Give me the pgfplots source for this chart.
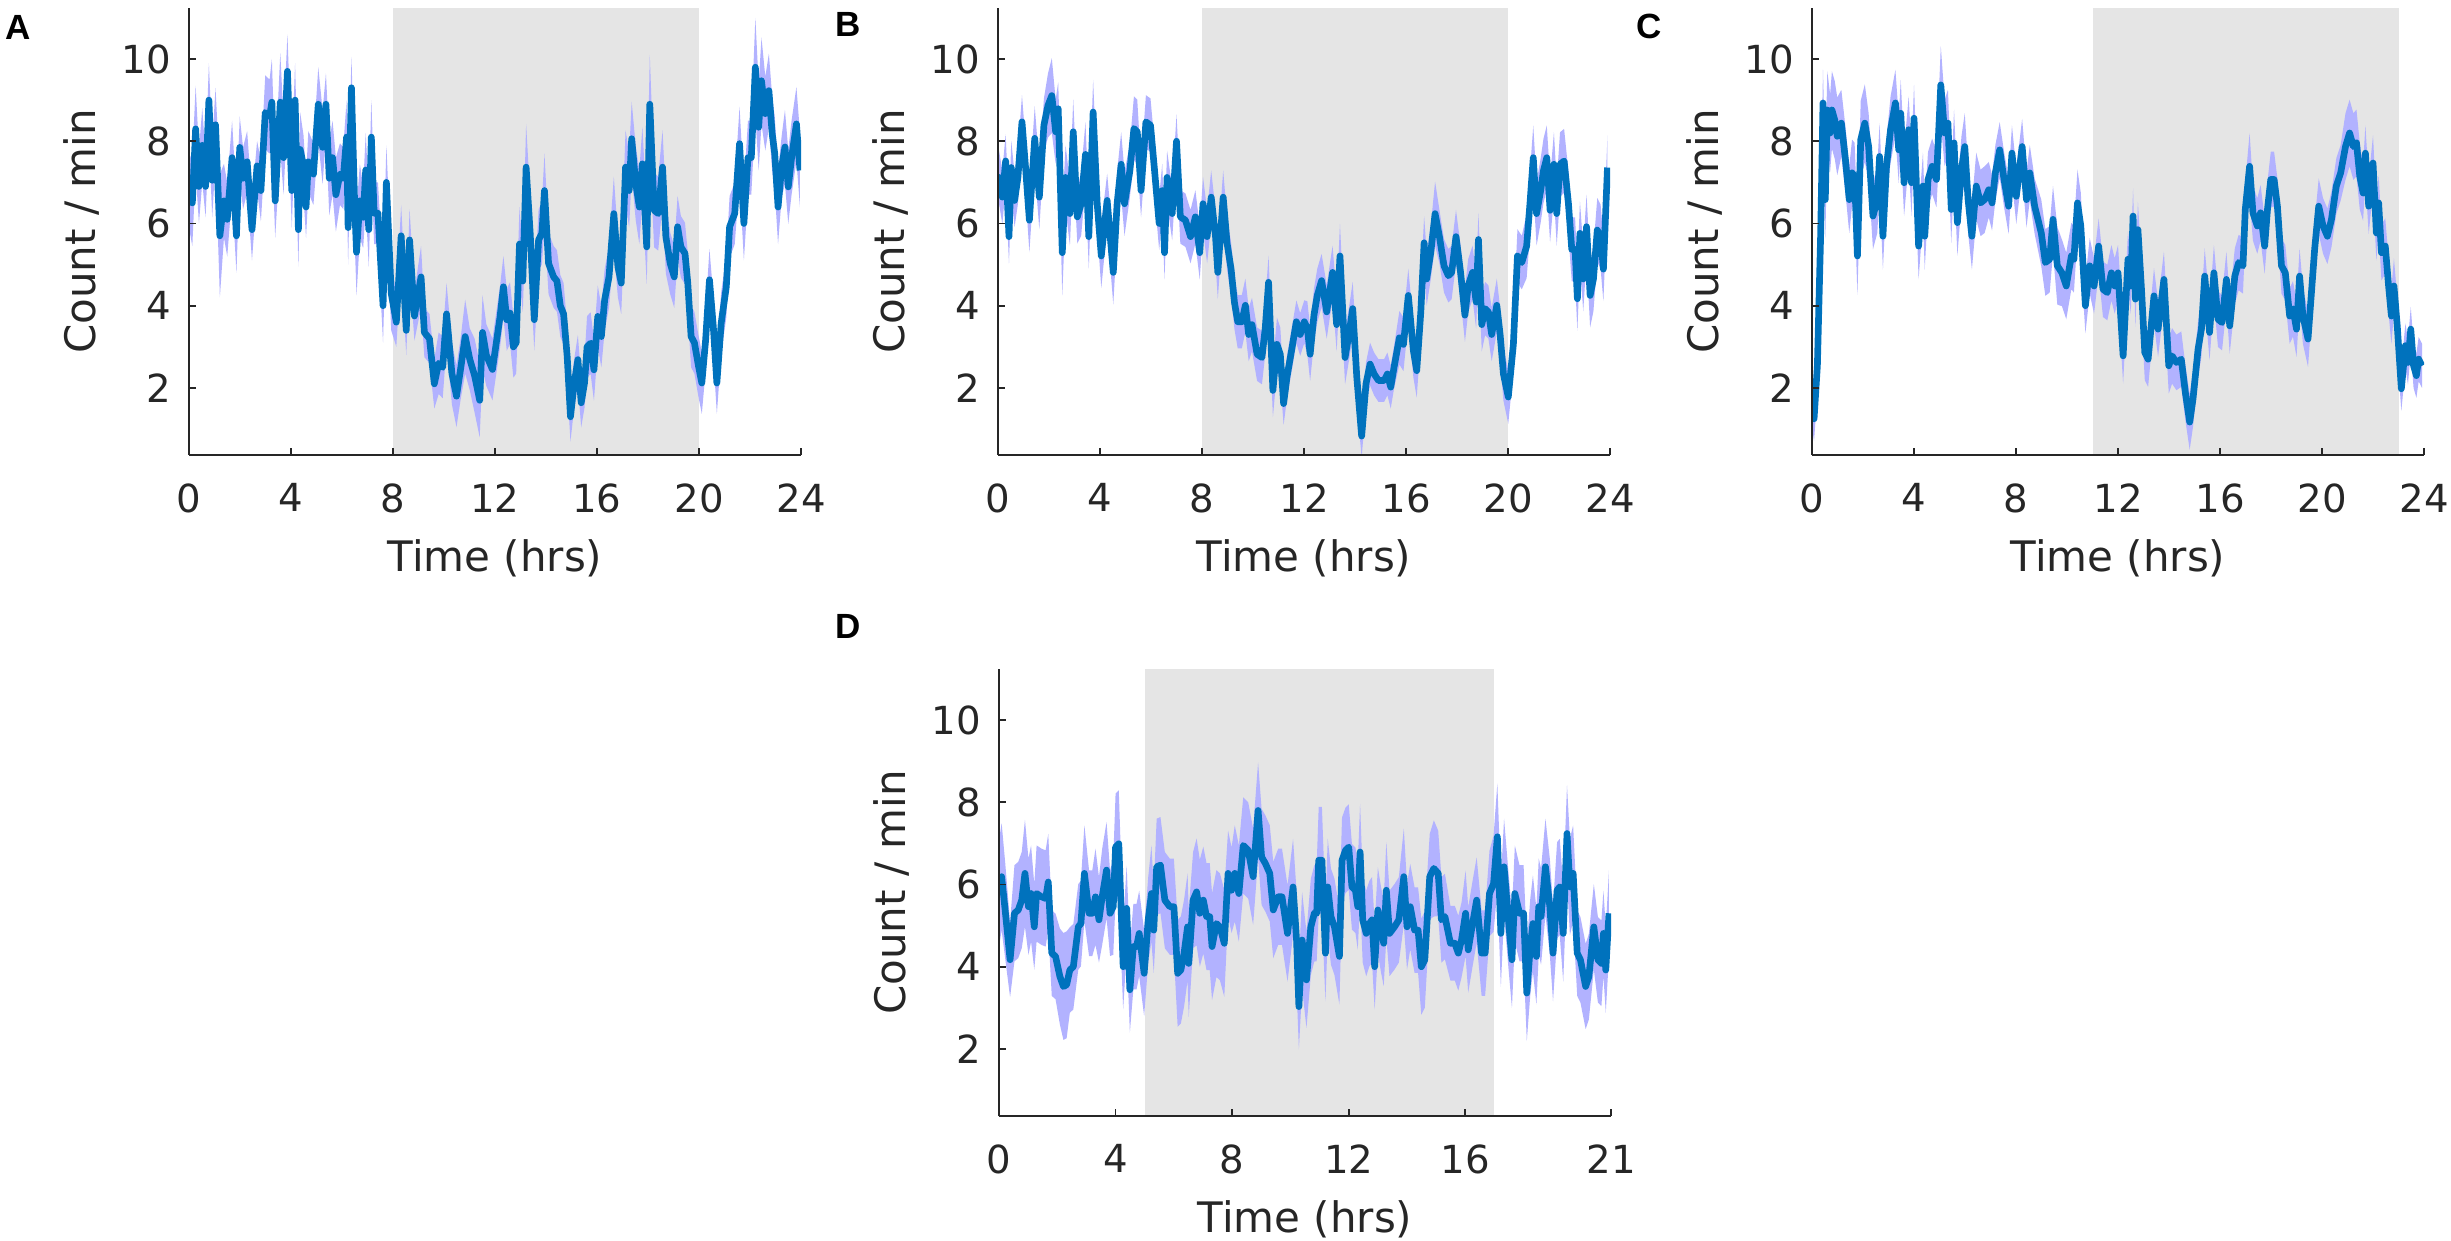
\documentclass[border=0pt]{standalone}
\usepackage{fontspec}
\setmainfont{DejaVu Sans}
\newfontfamily\panelfont{Liberation Sans}
\usepackage{pgfplots}
\usepackage{pgfplotstable}
\pgfplotsset{compat=1.18}
\usepgfplotslibrary{fillbetween}

\definecolor{mline}{RGB}{0,114,189}
\definecolor{mband}{RGB}{178,178,255}
\definecolor{mgray}{RGB}{229,229,229}
\definecolor{maxis}{RGB}{38,38,38}

\pgfplotstableread{
t m e
0.00 6.8 0.6
0.13 6.5 0.7
0.26 8.3 0.7
0.39 6.9 0.6
0.52 7.9 0.6
0.65 6.9 0.5
0.78 9.0 0.6
0.91 7.05 0.6
1.04 8.4 0.6
1.21 5.7 1.0
1.37 6.55 0.6
1.50 6.1 0.6
1.69 7.6 0.6
1.86 5.7 0.6
1.99 7.85 0.5
2.12 7.1 0.5
2.28 7.5 0.5
2.47 5.85 0.5
2.67 7.4 0.4
2.82 6.8 0.5
2.99 8.7 0.6
3.16 8.6 0.6
3.25 8.95 0.7
3.38 6.55 0.6
3.58 8.95 0.8
3.71 7.6 0.6
3.86 9.7 0.6
4.03 6.8 0.6
4.16 9.0 0.6
4.29 5.85 0.6
4.36 7.8 0.6
4.49 7.4 0.5
4.59 6.4 0.5
4.68 7.5 0.5
4.88 7.2 0.5
5.07 8.9 0.6
5.24 7.85 0.6
5.37 8.9 0.5
5.50 7.1 0.6
5.63 7.6 0.6
5.76 6.7 0.6
5.92 7.2 0.5
6.05 7.1 0.5
6.18 8.1 0.6
6.24 5.9 0.6
6.37 9.3 0.5
6.50 6.4 0.6
6.57 5.3 0.7
6.70 6.55 0.6
6.83 6.15 0.5
6.93 7.3 0.6
7.05 5.85 0.6
7.15 8.1 0.6
7.26 6.25 0.5
7.41 6.25 0.5
7.61 4.0 0.6
7.74 7.0 0.6
7.93 4.3 0.6
8.13 3.6 0.4
8.32 5.7 0.5
8.52 3.4 0.4
8.65 5.6 0.5
8.84 3.75 0.4
9.10 4.7 0.5
9.23 3.35 0.4
9.43 3.2 0.4
9.62 2.1 0.4
9.79 2.6 0.5
9.95 2.5 0.5
10.10 3.8 0.5
10.31 2.35 0.5
10.49 1.8 0.5
10.66 2.5 0.5
10.83 3.25 0.6
11.01 2.7 0.5
11.20 2.3 0.6
11.40 1.7 0.6
11.51 3.35 0.6
11.66 2.8 0.5
11.90 2.45 0.5
12.20 3.74 0.5
12.33 4.46 0.5
12.46 3.66 0.5
12.59 3.82 0.5
12.72 3.0 0.5
12.83 3.1 0.5
12.96 5.5 0.6
13.09 4.6 0.5
13.22 7.37 0.7
13.38 5.76 0.6
13.54 3.66 0.5
13.71 5.6 0.5
13.84 5.76 0.5
13.94 6.8 0.6
14.10 5.03 0.5
14.30 4.7 0.5
14.43 4.6 0.5
14.56 4.0 0.5
14.69 3.8 0.5
14.83 2.77 0.5
14.96 1.3 0.4
15.09 2.04 0.4
15.25 2.69 0.4
15.38 1.64 0.4
15.51 2.12 0.4
15.61 3.0 0.5
15.75 3.09 0.5
15.88 2.44 0.5
16.03 3.74 0.5
16.17 3.25 0.5
16.30 4.14 0.5
16.47 4.7 0.5
16.66 6.24 0.6
16.82 4.95 0.5
16.95 4.55 0.5
17.12 7.37 0.6
17.26 6.8 0.6
17.36 8.06 0.6
17.52 6.97 0.6
17.66 6.4 0.6
17.78 7.45 0.6
17.95 5.43 0.6
18.07 8.9 0.8
18.24 6.32 0.6
18.40 6.24 0.6
18.57 7.37 0.6
18.70 5.68 0.6
18.87 5.03 0.5
19.03 4.7 0.5
19.16 5.92 0.5
19.29 5.43 0.5
19.45 5.27 0.5
19.56 4.55 0.5
19.69 3.25 0.5
19.82 3.1 0.5
19.98 2.53 0.5
20.11 2.12 0.5
20.26 3.17 0.5
20.41 4.63 0.5
20.56 3.5 0.5
20.70 2.12 0.5
20.87 3.58 0.5
21.07 4.46 0.5
21.20 5.92 0.5
21.40 6.24 0.5
21.59 7.94 0.6
21.76 6.0 0.6
21.92 7.6 0.6
22.05 7.6 0.6
22.21 9.8 0.8
22.34 8.34 0.7
22.45 9.47 0.7
22.60 8.67 0.6
22.74 9.23 0.6
22.87 8.18 0.6
22.97 7.7 0.6
23.10 6.4 0.6
23.24 7.37 0.5
23.37 7.86 0.6
23.50 6.89 0.6
23.63 7.6 0.6
23.82 8.42 0.6
23.96 7.29 0.6
}\dataA

\pgfplotstableread{
t m e
0.00 7.0 0.5
0.04 7.12 0.5
0.17 6.64 0.5
0.30 7.52 0.5
0.43 5.68 0.5
0.52 7.36 0.5
0.65 6.56 0.5
0.78 7.12 0.5
0.94 8.47 0.5
1.08 7.36 0.5
1.23 6.08 0.6
1.44 8.07 0.6
1.62 6.64 0.6
1.80 8.39 0.5
1.96 8.87 0.6
2.11 9.11 0.7
2.26 8.23 0.6
2.36 8.79 0.5
2.52 5.29 0.8
2.65 7.12 0.6
2.82 6.24 0.6
2.95 8.23 0.6
3.11 6.16 0.5
3.26 6.48 0.6
3.43 7.68 0.6
3.56 5.68 0.6
3.73 8.71 0.6
3.89 6.48 0.5
4.05 5.21 0.6
4.28 6.56 0.5
4.52 4.81 0.6
4.67 6.48 0.6
4.83 7.44 0.6
4.96 6.48 0.6
5.17 7.28 0.5
5.33 8.31 0.6
5.46 8.23 0.6
5.61 6.8 0.5
5.80 8.47 0.5
5.98 8.39 0.5
6.14 7.28 0.5
6.32 6.0 0.5
6.44 6.8 0.5
6.53 5.29 0.5
6.63 7.12 0.5
6.83 6.24 0.5
7.00 8.0 0.5
7.15 6.16 0.5
7.35 6.08 0.5
7.55 5.68 0.5
7.74 6.16 0.5
7.91 5.29 0.5
8.04 6.48 0.5
8.20 5.68 0.5
8.36 6.64 0.5
8.53 5.68 0.5
8.62 4.81 0.5
8.83 6.64 0.5
8.98 5.53 0.5
9.14 4.89 0.5
9.27 4.09 0.5
9.40 3.61 0.5
9.56 3.61 0.5
9.70 4.01 0.5
9.83 3.30 0.5
9.96 3.54 0.5
10.16 2.82 0.5
10.35 2.74 0.5
10.48 3.46 0.5
10.61 4.57 0.5
10.78 1.94 0.5
10.94 3.06 0.5
11.07 2.82 0.5
11.20 1.62 0.4
11.33 2.26 0.4
11.53 2.98 0.4
11.70 3.61 0.4
11.85 3.30 0.4
12.01 3.61 0.4
12.13 3.46 0.5
12.24 2.82 0.5
12.39 3.77 0.5
12.52 4.25 0.5
12.69 4.61 0.5
12.89 3.85 0.5
13.12 4.81 0.5
13.28 3.54 0.5
13.41 5.21 0.6
13.61 2.74 0.5
13.78 3.38 0.5
13.91 3.93 0.5
14.07 2.26 0.5
14.26 0.83 0.4
14.43 2.10 0.4
14.59 2.58 0.4
14.75 2.34 0.4
14.92 2.18 0.4
15.14 2.18 0.4
15.27 2.34 0.4
15.40 2.02 0.4
15.53 2.50 0.4
15.74 3.22 0.5
15.90 3.06 0.5
16.09 4.25 0.5
16.29 2.90 0.5
16.42 2.42 0.5
16.58 3.85 0.5
16.71 5.53 0.5
16.81 4.65 0.5
16.97 5.29 0.5
17.14 6.24 0.6
17.31 5.68 0.5
17.49 4.97 0.5
17.66 4.73 0.5
17.79 4.81 0.5
17.96 5.68 0.5
18.14 4.81 0.5
18.31 3.77 0.5
18.44 4.49 0.5
18.61 4.81 0.5
18.75 4.09 0.5
18.84 5.61 0.5
18.97 3.54 0.5
19.10 3.93 0.5
19.23 3.85 0.5
19.36 3.30 0.5
19.56 4.01 0.5
19.69 3.30 0.5
19.82 2.34 0.5
20.01 1.78 0.5
20.21 3.06 0.5
20.37 5.21 0.5
20.54 5.05 0.5
20.73 5.45 0.6
20.86 6.48 0.6
20.99 7.60 0.6
21.12 6.24 0.6
21.28 6.80 0.6
21.39 7.28 0.6
21.52 7.60 0.6
21.65 6.32 0.6
21.80 7.44 0.6
21.91 6.24 0.6
22.04 7.44 0.6
22.20 7.52 0.6
22.37 6.48 0.6
22.50 5.37 0.6
22.63 5.37 0.6
22.72 4.17 0.6
22.82 5.76 0.6
22.95 4.65 0.6
23.08 5.92 0.6
23.22 4.25 0.6
23.35 4.65 0.6
23.50 5.84 0.6
23.63 5.68 0.6
23.74 4.89 0.6
23.90 7.36 0.6
}\dataB

\pgfplotstableread{
t m e
0.00 1.57 0.4
0.08 1.25 0.4
0.21 2.54 0.5
0.34 5.77 0.6
0.43 8.93 0.6
0.52 6.58 0.7
0.60 8.76 0.7
0.71 8.20 0.7
0.78 8.76 0.7
0.89 8.52 0.7
0.99 8.12 0.7
1.15 8.44 0.6
1.31 7.55 0.6
1.46 6.58 0.6
1.57 7.23 0.6
1.67 7.15 0.6
1.78 5.21 0.7
1.91 8.04 0.7
2.07 8.44 0.7
2.22 7.87 0.6
2.39 6.18 0.6
2.56 6.58 0.6
2.65 7.63 0.6
2.78 5.69 0.6
2.92 7.39 0.5
3.08 8.28 0.6
3.27 8.93 0.6
3.40 7.79 0.6
3.48 8.68 0.6
3.61 6.99 0.6
3.79 8.28 0.6
3.90 6.99 0.6
4.00 8.56 0.6
4.18 5.45 0.6
4.35 6.91 0.6
4.42 5.69 0.6
4.55 7.07 0.5
4.71 7.39 0.5
4.88 7.07 0.5
5.05 9.37 0.7
5.20 8.20 0.6
5.33 8.44 0.6
5.46 6.34 0.6
5.57 7.96 0.6
5.70 6.02 0.6
5.86 7.31 0.6
5.99 7.87 0.6
6.12 6.58 0.6
6.27 5.69 0.6
6.44 6.91 0.6
6.61 6.50 0.6
6.77 6.58 0.6
6.93 6.82 0.5
7.06 6.50 0.5
7.19 7.23 0.5
7.36 7.79 0.5
7.53 7.07 0.5
7.71 6.42 0.5
7.84 7.71 0.5
8.01 6.66 0.5
8.24 7.87 0.5
8.41 6.58 0.5
8.54 7.23 0.5
8.73 6.42 0.5
8.99 5.77 0.6
9.15 5.05 0.6
9.32 5.13 0.6
9.45 6.10 0.6
9.62 4.97 0.7
9.80 4.80 0.6
9.97 4.48 0.6
10.17 5.21 0.6
10.27 5.13 0.6
10.41 6.50 0.6
10.54 5.94 0.6
10.72 4.00 0.5
10.89 4.97 0.5
11.06 4.48 0.5
11.24 5.45 0.5
11.41 4.40 0.5
11.58 4.32 0.5
11.74 4.80 0.5
11.87 4.48 0.5
12.00 4.80 0.5
12.20 2.78 0.5
12.39 5.13 0.5
12.50 4.48 0.5
12.59 6.18 0.5
12.68 4.16 0.5
12.78 5.85 0.5
12.92 4.40 0.5
13.05 2.86 0.5
13.18 2.70 0.5
13.41 4.24 0.5
13.57 3.43 0.5
13.80 4.64 0.5
13.99 2.54 0.5
14.12 2.78 0.5
14.29 2.62 0.5
14.48 2.70 0.5
14.64 1.89 0.5
14.81 1.17 0.5
14.94 1.73 0.5
15.14 2.95 0.5
15.27 3.43 0.5
15.40 4.72 0.5
15.59 3.35 0.5
15.76 4.80 0.5
15.92 3.67 0.5
16.08 3.59 0.5
16.25 4.64 0.5
16.38 3.51 0.5
16.58 4.72 0.5
16.73 5.05 0.5
16.90 4.97 0.5
16.99 6.34 0.5
17.16 7.39 0.6
17.29 6.26 0.5
17.46 5.94 0.5
17.59 6.26 0.5
17.75 5.45 0.5
17.86 6.34 0.5
17.99 7.07 0.5
18.12 7.07 0.5
18.25 6.42 0.5
18.41 4.97 0.5
18.56 4.80 0.5
18.73 3.75 0.5
18.86 3.92 0.5
19.00 3.43 0.5
19.12 4.72 0.5
19.25 3.75 0.5
19.45 3.19 0.5
19.71 5.37 0.5
19.87 6.42 0.5
20.04 5.94 0.5
20.21 5.69 0.5
20.37 6.10 0.5
20.56 6.91 0.5
20.73 7.23 0.5
20.92 7.87 0.6
21.08 8.20 0.6
21.23 7.87 0.6
21.35 7.96 0.6
21.48 7.15 0.6
21.61 6.74 0.5
21.70 7.71 0.5
21.83 6.42 0.5
22.00 7.47 0.5
22.13 5.77 0.5
22.22 6.50 0.5
22.33 5.29 0.5
22.48 5.45 0.5
22.61 4.48 0.5
22.72 3.75 0.5
22.82 4.48 0.5
22.95 3.51 0.5
23.11 1.98 0.4
23.27 3.03 0.4
23.37 2.62 0.4
23.48 3.43 0.4
23.59 2.54 0.4
23.70 2.30 0.4
23.79 2.70 0.4
23.92 2.54 0.4
}\dataC

\pgfplotstableread{
t m e
0.00 5.78 1.0
0.09 6.19 1.0
0.21 5.38 0.9
0.38 4.17 0.7
0.53 5.30 0.9
0.66 5.38 0.9
0.78 5.62 0.9
0.89 6.27 1.0
1.01 5.46 0.9
1.10 5.78 0.9
1.21 4.97 0.8
1.29 5.78 0.9
1.46 5.70 0.9
1.60 5.66 0.9
1.69 6.06 0.9
1.81 4.33 0.8
1.94 4.25 0.8
2.09 3.76 0.9
2.21 3.52 1.0
2.32 3.56 1.0
2.43 3.92 0.8
2.55 4.00 0.8
2.72 4.97 0.8
2.81 5.05 0.8
2.93 6.27 0.9
3.09 5.30 0.8
3.20 5.30 0.8
3.31 5.70 0.9
3.43 5.14 0.8
3.54 5.70 0.9
3.69 6.35 0.9
3.81 5.30 0.8
3.92 5.46 0.9
4.00 6.91 1.0
4.11 6.99 1.0
4.26 4.00 0.8
4.38 5.42 0.8
4.49 3.44 0.8
4.61 4.49 0.8
4.72 4.49 0.8
4.81 4.81 0.8
4.98 3.84 0.8
5.12 5.14 0.8
5.23 5.78 0.9
5.31 4.89 0.8
5.41 6.43 0.9
5.54 6.47 0.9
5.69 5.62 0.9
5.86 5.46 0.9
6.00 5.46 0.9
6.13 3.84 1.0
6.24 3.92 1.0
6.35 4.33 1.0
6.47 4.97 1.0
6.51 4.08 1.0
6.66 5.62 0.9
6.78 5.82 1.0
6.89 5.30 1.0
7.01 5.62 1.0
7.12 5.22 1.0
7.23 5.22 1.0
7.31 4.49 1.0
7.46 5.05 1.0
7.58 4.97 1.0
7.73 4.57 1.0
7.86 6.27 0.8
7.98 5.86 0.8
8.09 6.27 0.9
8.23 5.78 0.9
8.38 6.95 0.9
8.55 6.83 0.9
8.72 6.19 0.9
8.89 7.80 0.9
9.01 6.67 0.9
9.14 6.51 0.9
9.29 6.27 0.9
9.41 5.38 0.9
9.58 5.70 0.9
9.71 5.70 0.9
9.90 4.81 0.9
10.09 5.94 0.9
10.21 4.65 0.9
10.29 3.03 0.8
10.40 4.65 0.9
10.55 3.68 0.9
10.70 4.97 0.9
10.82 5.30 0.9
10.90 5.30 0.9
10.97 6.59 1.0
11.08 6.59 1.0
11.20 4.33 0.9
11.28 5.94 0.9
11.39 5.22 0.9
11.51 4.97 0.9
11.68 4.25 0.9
11.77 6.59 0.8
11.89 6.83 0.8
12.00 6.91 0.8
12.11 5.94 0.8
12.23 5.86 0.8
12.31 5.46 0.8
12.39 6.79 0.9
12.48 5.14 0.8
12.60 4.81 0.8
12.71 5.05 0.8
12.80 5.14 0.8
12.89 4.00 0.8
13.00 5.38 0.8
13.11 4.89 0.8
13.20 4.57 0.8
13.29 5.86 0.9
13.40 4.81 0.8
13.57 4.97 0.8
13.72 5.14 0.8
13.89 6.19 0.9
14.00 4.97 0.8
14.11 5.46 0.8
14.26 4.89 0.8
14.38 4.89 0.8
14.49 4.00 0.9
14.61 4.17 0.9
14.78 6.19 0.8
14.92 6.39 0.9
15.07 6.27 0.8
15.18 5.14 0.8
15.30 5.22 0.8
15.49 4.57 0.7
15.64 4.57 0.7
15.76 4.33 0.7
15.87 4.65 0.7
16.01 5.30 0.8
16.10 4.41 0.8
16.25 5.05 0.8
16.39 5.62 0.8
16.56 4.33 0.8
16.68 4.33 0.8
16.83 5.78 0.8
16.97 6.02 0.9
17.10 7.16 1.0
17.22 4.81 1.0
17.33 6.43 0.9
17.48 5.14 0.9
17.60 4.17 0.9
17.70 5.78 0.9
17.86 5.30 0.9
18.00 5.30 0.9
18.11 3.36 0.9
18.23 4.49 0.9
18.32 5.05 0.9
18.44 4.25 0.9
18.52 5.46 0.9
18.60 5.22 0.9
18.75 6.43 0.9
18.90 5.46 0.9
19.01 4.33 0.9
19.15 5.86 0.9
19.24 5.94 0.9
19.36 4.81 0.9
19.49 7.24 0.9
19.59 5.94 0.9
19.70 6.27 0.9
19.84 4.33 0.8
19.95 4.17 0.8
20.13 3.52 0.8
20.24 3.76 0.8
20.41 4.97 0.8
20.55 4.17 0.8
20.67 4.08 0.8
20.74 4.81 0.8
20.82 3.92 0.8
20.93 5.30 0.8
}\dataD

\pgfplotsset{
  panel/.style={
    scale only axis, width=183.6pt, height=134.1pt,
    xmin=0, ymin=0.37, ymax=11.24,
    axis lines*=left,
    axis line style={-, maxis, line width=0.5pt},
    tick style={maxis, line width=0.5pt},
    tick align=inside,
    major tick length=2.2pt,
    ytick={2,4,6,8,10},
    /pgf/number format/assume math mode=true,
    xticklabel style={font=\fontsize{11.6}{13}\selectfont, text=maxis, yshift=-5.0pt},
    yticklabel style={font=\fontsize{11.6}{13}\selectfont, text=maxis, xshift=-1.9pt},
    xlabel={Time (hrs)},
    ylabel={Count / min},
    every axis x label/.style={at={(axis description cs:0.5,0)}, anchor=center, yshift=-31pt, font=\fontsize{12.6}{14}\selectfont, text=maxis},
    every axis y label/.style={at={(axis description cs:0,0.5)}, xshift=-32.4pt, rotate=90, anchor=center, font=\fontsize{12.6}{14}\selectfont, text=maxis},
    axis on top,
  },
  band/.style={draw=none, fill=mband},
  meanline/.style={mline, line width=2.0pt, line join=round},
  night/.style={draw=none, fill=mgray, forget plot, on layer=axis background},
}

\begin{document}
\begin{tikzpicture}

% Panel A
\begin{axis}[panel, at={(56.7pt,235.5pt)}, anchor=south west, xmax=24, xtick={0,4,8,12,16,20,24}]
\addplot[night] coordinates {(8,0.37) (8,11.24) (20,11.24) (20,0.37)};
\addplot[draw=none, name path=uA, forget plot] table[x=t, y expr=\thisrow{m}+1.5*\thisrow{e}] {\dataA};
\addplot[draw=none, name path=lA, forget plot] table[x=t, y expr=\thisrow{m}-1.5*\thisrow{e}] {\dataA};
\addplot[band, forget plot] fill between[of=uA and lA];
\addplot[meanline] table[x=t, y=m] {\dataA};
\end{axis}

% Panel B
\begin{axis}[panel, at={(299.4pt,235.5pt)}, anchor=south west, xmax=24, xtick={0,4,8,12,16,20,24}]
\addplot[night] coordinates {(8,0.37) (8,11.24) (20,11.24) (20,0.37)};
\addplot[draw=none, name path=uB, forget plot] table[x=t, y expr=\thisrow{m}+1.3*\thisrow{e}] {\dataB};
\addplot[draw=none, name path=lB, forget plot] table[x=t, y expr=\thisrow{m}-1.3*\thisrow{e}] {\dataB};
\addplot[band, forget plot] fill between[of=uB and lB];
\addplot[meanline] table[x=t, y=m] {\dataB};
\end{axis}

% Panel C
\begin{axis}[panel, at={(543.6pt,235.5pt)}, anchor=south west, xmax=24, xtick={0,4,8,12,16,20,24}]
\addplot[night] coordinates {(11,0.37) (11,11.24) (23,11.24) (23,0.37)};
\addplot[draw=none, name path=uC, forget plot] table[x=t, y expr=\thisrow{m}+1.35*\thisrow{e}] {\dataC};
\addplot[draw=none, name path=lC, forget plot] table[x=t, y expr=\thisrow{m}-1.35*\thisrow{e}] {\dataC};
\addplot[band, forget plot] fill between[of=uC and lC];
\addplot[meanline] table[x=t, y=m] {\dataC};
\end{axis}

% Panel D
\begin{axis}[panel, at={(299.7pt,37.2pt)}, anchor=south west, xmax=21, xtick={0,4,8,12,16,21}]
\addplot[night] coordinates {(5,0.37) (5,11.24) (17,11.24) (17,0.37)};
\addplot[draw=none, name path=uD, forget plot] table[x=t, y expr=\thisrow{m}+1.3*\thisrow{e}] {\dataD};
\addplot[draw=none, name path=lD, forget plot] table[x=t, y expr=\thisrow{m}-1.3*\thisrow{e}] {\dataD};
\addplot[band, forget plot] fill between[of=uD and lD];
\addplot[meanline] table[x=t, y=m] {\dataD};
\end{axis}

\node[anchor=north west, inner sep=0pt, font=\panelfont\bfseries\fontsize{10.5}{12}\selectfont] at (1.5pt,367.5pt) {A};
\node[anchor=north west, inner sep=0pt, font=\panelfont\bfseries\fontsize{10.5}{12}\selectfont] at (250.5pt,368.4pt) {B};
\node[anchor=north west, inner sep=0pt, font=\panelfont\bfseries\fontsize{10.5}{12}\selectfont] at (490.8pt,368.1pt) {C};
\node[anchor=north west, inner sep=0pt, font=\panelfont\bfseries\fontsize{10.5}{12}\selectfont] at (250.5pt,187.8pt) {D};

\pgfresetboundingbox
\path (0,0) rectangle (735.3pt,372pt);
\end{tikzpicture}
\end{document}
